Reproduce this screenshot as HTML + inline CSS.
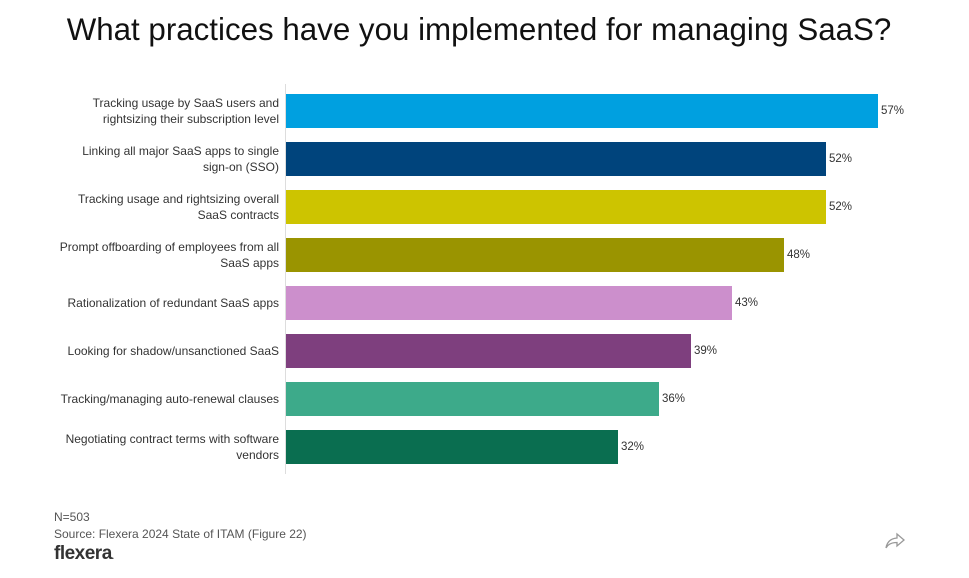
<!DOCTYPE html>
<html><head><meta charset="utf-8"><style>
body{margin:0;width:969px;height:578px;background:#fff;font-family:"Liberation Sans",sans-serif;position:relative;overflow:hidden}
.t{position:absolute;top:12px;left:0;width:958px;text-align:center;font-size:31.3px;color:#111}
.ax{position:absolute;left:285px;top:84px;width:1px;height:390px;background:#ddd}
.b{position:absolute;left:286px;height:34px}
.l{position:absolute;right:690px;width:260px;text-align:right;font-size:12px;line-height:16px;color:#333;display:flex;align-items:center;justify-content:flex-end;height:34px}
.v{position:absolute;font-size:11.5px;color:#333;height:34px;line-height:34px}
.f{position:absolute;left:54px;font-size:12px;color:#555}
</style></head><body>
<div class="t">What practices have you implemented for managing SaaS?</div>
<div class="ax"></div>

<div class="l" style="top:94px">Tracking usage by SaaS users and<br>rightsizing their subscription level</div>
<div class="b" style="top:94px;width:592px;background:#00a0e0"></div>
<div class="v" style="top:94px;left:881px">57%</div>

<div class="l" style="top:142px">Linking all major SaaS apps to single<br>sign-on (SSO)</div>
<div class="b" style="top:142px;width:540px;background:#00447c"></div>
<div class="v" style="top:142px;left:829px">52%</div>

<div class="l" style="top:190px">Tracking usage and rightsizing overall<br>SaaS contracts</div>
<div class="b" style="top:190px;width:540px;background:#cdc400"></div>
<div class="v" style="top:190px;left:829px">52%</div>

<div class="l" style="top:238px">Prompt offboarding of employees from all<br>SaaS apps</div>
<div class="b" style="top:238px;width:498px;background:#9a9400"></div>
<div class="v" style="top:238px;left:787px">48%</div>

<div class="l" style="top:286px">Rationalization of redundant SaaS apps</div>
<div class="b" style="top:286px;width:446px;background:#cc8fcc"></div>
<div class="v" style="top:286px;left:735px">43%</div>

<div class="l" style="top:334px">Looking for shadow/unsanctioned SaaS</div>
<div class="b" style="top:334px;width:405px;background:#7e3f7e"></div>
<div class="v" style="top:334px;left:694px">39%</div>

<div class="l" style="top:382px">Tracking/managing auto-renewal clauses</div>
<div class="b" style="top:382px;width:373px;background:#3daa8a"></div>
<div class="v" style="top:382px;left:662px">36%</div>

<div class="l" style="top:430px">Negotiating contract terms with software<br>vendors</div>
<div class="b" style="top:430px;width:332px;background:#0a6e50"></div>
<div class="v" style="top:430px;left:621px">32%</div>

<div class="f" style="top:510px">N=503</div>
<div class="f" style="top:527px">Source: Flexera 2024 State of ITAM (Figure 22)</div>
<div class="f" style="top:543px;font-size:19px;font-weight:bold;color:#333;letter-spacing:-0.5px">flexera<span style="font-size:8px">.</span></div>
<svg style="position:absolute;left:884px;top:532px" width="22" height="18" viewBox="0 0 22 18"><path d="M13 2 L20 8 L13 14 V10.5 C8 10.5 4 12 2 16 C3 10 7 6.5 13 6 Z" fill="none" stroke="#999" stroke-width="1.3"/></svg>
</body></html>
